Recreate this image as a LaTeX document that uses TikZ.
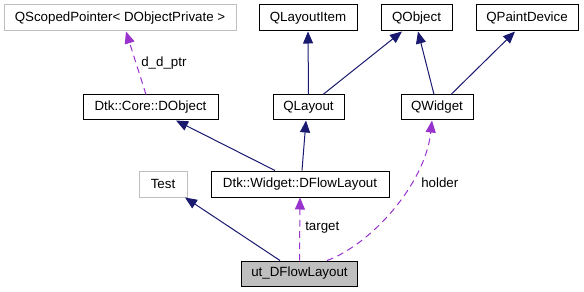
\documentclass[tikz,border=0pt]{standalone}
\usepackage{fontspec}
\setmainfont{Liberation Sans}
\usetikzlibrary{arrows.meta,calc}
\definecolor{inhcol}{HTML}{191970}
\definecolor{usecol}{HTML}{9A32CD}
\definecolor{grayline}{HTML}{BFBFBF}
\tikzset{
  cls/.style={draw=black, line width=0.75pt, fill=white, inner sep=0pt,
    minimum height=19.5pt, font=\fontsize{10pt}{12pt}\selectfont},
  ext/.style={cls, draw=grayline},
  cur/.style={cls, fill=grayline},
  inh/.style={draw=inhcol, line width=0.75pt,
    -{Triangle[length=9pt,width=7.5pt,fill=inhcol]}},
  use/.style={draw=usecol, line width=0.75pt, dash pattern=on 5pt off 3.5pt,
    -{Triangle[length=9pt,width=7.5pt,fill=usecol]}},
  lbl/.style={inner sep=0pt, anchor=west, font=\fontsize{10pt}{12pt}\selectfont}
}
\begin{document}
\begin{tikzpicture}[x=0.75pt,y=-0.75pt]
\useasboundingbox (0,0) rectangle (584,292);
% class boxes
\node[ext, minimum width=174pt]   (qsp)  at (120,18)    {QScopedPointer< DObjectPrivate >};
\node[cls, minimum width=73.5pt]  (qli)  at (308,18)    {QLayoutItem};
\node[cls, minimum width=53.25pt] (qobj) at (416.5,18)  {QObject};
\node[cls, minimum width=76.5pt]  (qpd)  at (527,18)    {QPaintDevice};
\node[cls, minimum width=101.25pt,minimum height=18.75pt] (dobj) at (150.5,107.5) {Dtk::Core::DObject};
\node[cls, minimum width=53.25pt,minimum height=18.75pt]  (qlay) at (308.5,107.5) {QLayout};
\node[cls, minimum width=54pt,minimum height=18.75pt]     (qwid) at (437,107.5)   {QWidget};
\node[ext, minimum width=36pt]    (test) at (163,184)   {Test};
\node[cls, minimum width=133.5pt] (dfl)  at (300,184)   {Dtk::Widget::DFlowLayout};
\node[cur, minimum width=87pt,minimum height=18.75pt] (ut) at (299.5,273.5) {ut\_DFlowLayout};

% inheritance
\draw[inh] (qlay.north) -- (qli.south);
\draw[inh] ($(qlay.north)+(14.5,0)$) -- ($(qobj.south)+(-14.5,0)$);
\draw[inh] ($(qwid.north)+(-3,0)$) -- ($(qobj.south)+(1.5,0)$);
\draw[inh] ($(qwid.north)+(14,0)$) -- ($(qpd.south)+(-12,0)$);
\draw[inh] ($(dfl.north)+(-25,0)$) -- ($(dobj.south)+(25.5,0)$);
\draw[inh] ($(dfl.north)+(2,0)$) -- ($(qlay.south)+(-2.5,0)$);
\draw[inh] ($(ut.north)+(-19.5,0)$) -- ($(test.south)+(22,0)$);

% usage relations
\draw[use] ($(dobj.north)+(-4.5,0)$) -- ($(qsp.south)+(6,0)$);
\node[lbl] (l1) at (141,63) {d\_d\_ptr};
\draw[use] (ut.north) -- (dfl.south);
\node[lbl] (l2) at (305,227.5) {target};
\draw[use] ($(ut.north)+(27.5,0)$) .. controls (370,245) and (425,185) .. ($(qwid.south)+(-5,0)$);
\node[lbl] (l3) at (421,183) {holder};
\end{tikzpicture}
\end{document}
